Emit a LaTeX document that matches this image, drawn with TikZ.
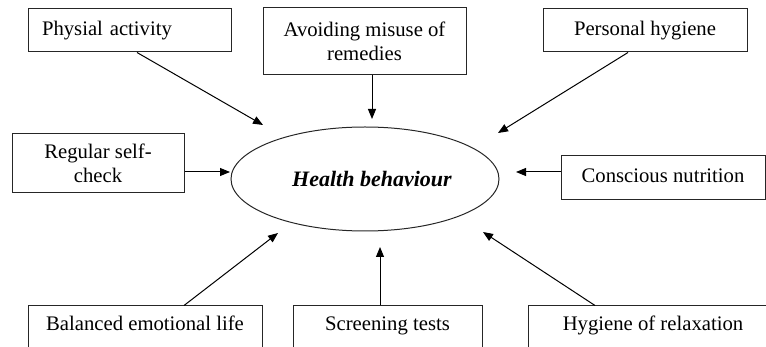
\documentclass[tikz,border=0pt]{standalone}
\usepackage{fontspec}
\setmainfont{Liberation Serif}
\usetikzlibrary{arrows.meta,shapes.geometric,calc}
\begin{document}
\begin{tikzpicture}[x=1pt,y=-1pt,
  every node/.style={font=\fontsize{20.7pt}{24.5pt}\selectfont},
  box/.style={draw=black!85,line width=1pt,rectangle,inner sep=0pt},
  oneline/.style={text height=14pt,text depth=4.5pt},
  lowbox/.style={box,text height=14pt,text depth=14pt,minimum height=50pt},
  arr/.style={line width=1pt,-{Triangle[length=10pt,width=8pt]}}]
\useasboundingbox (0,0) rectangle (766,347);
\clip (0,0) rectangle (766,347);
% boxes
\node[box,oneline,text width=175pt,inner xsep=14pt,align=left,minimum height=43pt] (pa) at (129.5,30.5) {\mbox{Physial activity}};
\node[box,align=center,minimum width=203pt,minimum height=67pt] (av) at (364.5,41.5) {Avoiding misuse of\\remedies};
\node[box,oneline,minimum width=204pt,minimum height=43pt] (ph) at (645,30.5) {Personal hygiene};
\node[box,align=center,minimum width=172pt,minimum height=59pt] (rs) at (98,163.5) {Regular self-\\check};
\node[box,oneline,minimum width=204pt,minimum height=44pt] (cn) at (663,178) {Conscious nutrition};
\node[lowbox,minimum width=234pt] (be) at (145,331) {Balanced emotional life};
\node[lowbox,minimum width=189pt] (st) at (387.5,331) {Screening tests};
\node[lowbox,minimum width=250pt] (hr) at (653,331) {Hygiene of relaxation};
% central ellipse
\node[draw=black!85,line width=1pt,ellipse,inner sep=0pt,minimum width=268pt,minimum height=104pt,
  font=\fontsize{22pt}{26pt}\selectfont\bfseries\itshape] (hb) at (365,179) {\hspace*{14pt}Health behaviour};
% arrow tips
\coordinate (tPA) at (263,125);
\coordinate (tAV) at (372,119);
\coordinate (tPH) at (498,133);
\coordinate (tRS) at (230,172);
\coordinate (tCN) at (516,172);
\coordinate (tBE) at (278,233);
\coordinate (tST) at (380,247);
\coordinate (tHR) at (483,232);
% connectors
\draw[arr] ([xshift=7.5pt]pa.south) -- (tPA);
\draw[arr] (av.south -| tAV) -- (tAV);
\draw[arr] ([xshift=-17pt]ph.south) -- (tPH);
\draw[arr] (rs.east |- tRS) -- (tRS);
\draw[arr] (cn.west |- tCN) -- (tCN);
\draw[arr] ([xshift=39pt]be.north) -- (tBE);
\draw[arr] (st.north -| tST) -- (tST);
\draw[arr] ([xshift=-58pt]hr.north) -- (tHR);
\end{tikzpicture}
\end{document}
